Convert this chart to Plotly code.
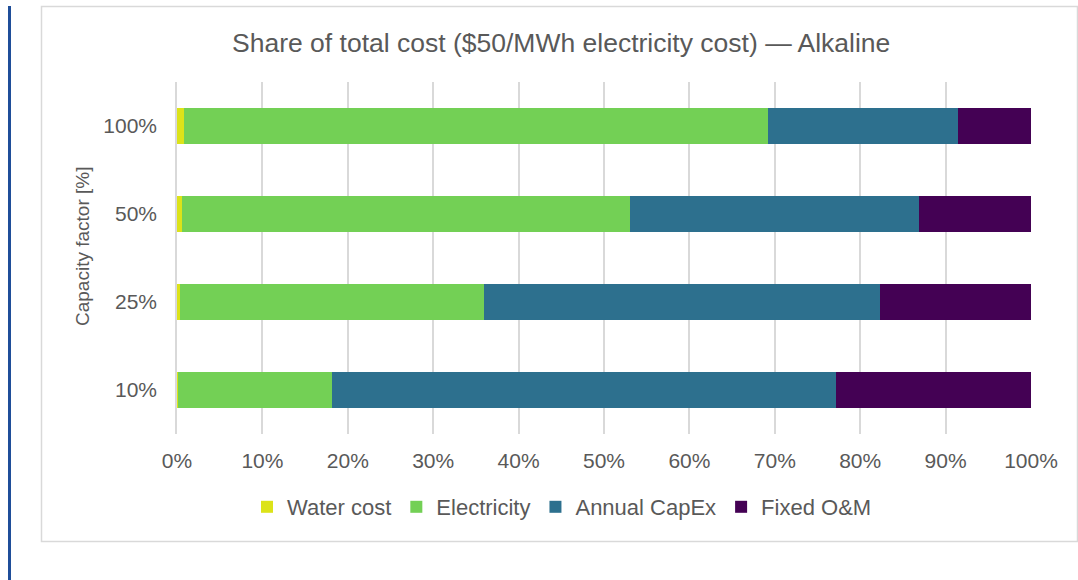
import plotly.graph_objects as go

# Cost breakdown by capacity factor (shares of total cost, %)
capacity_factors = ["10%", "25%", "50%", "100%"]
water_cost = [0.1, 0.3, 0.55, 0.8]
electricity = [18.1, 35.6, 52.45, 68.4]
annual_capex = [59.0, 46.4, 33.9, 22.3]
fixed_om = [22.8, 17.7, 13.1, 8.5]

series = [
    ("Water cost", water_cost, "#DCE319"),
    ("Electricity", electricity, "#73D055"),
    ("Annual CapEx", annual_capex, "#2D708E"),
    ("Fixed O&M", fixed_om, "#440154"),
]

FONT = "Liberation Sans, Arial, sans-serif"
GREY = "#595959"

W, H = 1078, 580
L, R, T, B = 177, 47, 82, 146
PW, PH = W - L - R, H - T - B


def px_x(x):
    return (x - L) / PW


def px_y(y):
    return (H - B - y) / PH


fig = go.Figure()
for name, vals, color in series:
    fig.add_trace(go.Bar(
        y=capacity_factors, x=vals, name=name, orientation="h",
        marker=dict(color=color, line=dict(width=0)),
    ))

fig.update_layout(
    width=W, height=H,
    margin=dict(l=L, r=R, t=T, b=B),
    barmode="stack", bargap=0.6,
    paper_bgcolor="white", plot_bgcolor="white",
    font=dict(family=FONT, color=GREY, size=21),
    showlegend=True,
    legend=dict(
        orientation="h", x=px_x(562), xanchor="center", y=px_y(507), yanchor="middle",
        font=dict(size=22, color=GREY), traceorder="normal",
        itemsizing="constant", itemwidth=30,
    ),
    xaxis=dict(
        range=[0, 100], tickvals=[0, 10, 20, 30, 40, 50, 60, 70, 80, 90, 100],
        ticktext=[f"{v}%" for v in range(0, 101, 10)],
        showgrid=True, gridcolor="#D9D9D9", gridwidth=1.5,
        zeroline=False, showline=False, ticks="", ticklabelstandoff=12,
        tickfont=dict(size=21, color=GREY),
    ),
    yaxis=dict(
        categoryorder="array", categoryarray=capacity_factors,
        range=[-0.5, 3.5], showgrid=False, zeroline=False,
        showline=True, linecolor="#D9D9D9", linewidth=1.5,
        ticks="", ticklabelstandoff=14,
        tickfont=dict(size=21, color=GREY),
    ),
    shapes=[
        # outer chart frame
        dict(type="rect", xref="paper", yref="paper",
             x0=px_x(41.5), x1=px_x(1077.5), y0=px_y(541.5), y1=px_y(6.5),
             line=dict(color="#D9D9D9", width=1.5), fillcolor="rgba(0,0,0,0)", layer="below"),
        # left accent bar
        dict(type="line", xref="paper", yref="paper",
             x0=px_x(9.5), x1=px_x(9.5), y0=px_y(580), y1=px_y(6),
             line=dict(color="#1F4E99", width=3)),
    ],
    annotations=[
        dict(text="Share of total cost ($50/MWh electricity cost) — Alkaline",
             xref="paper", yref="paper", x=px_x(561), y=px_y(43),
             xanchor="center", yanchor="middle", showarrow=False,
             font=dict(size=26.5, color=GREY, family=FONT)),
        dict(text="Capacity factor [%]", textangle=-90,
             xref="paper", yref="paper", x=px_x(82), y=px_y(247),
             xanchor="center", yanchor="middle", showarrow=False,
             font=dict(size=19, color=GREY, family=FONT)),
    ],
)

fig.write_html("out.html")
